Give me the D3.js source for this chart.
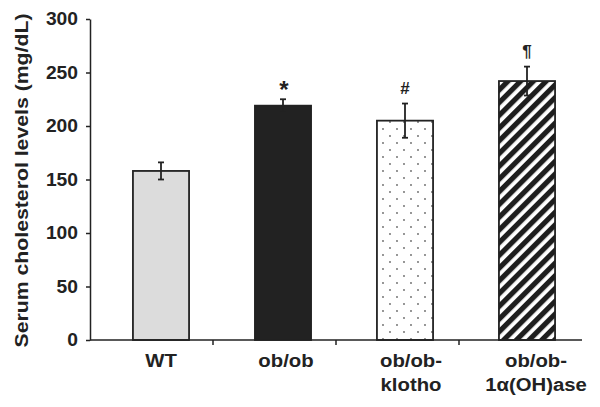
<!DOCTYPE html>
<html><head><meta charset="utf-8">
<script src="https://cdn.jsdelivr.net/npm/d3@7"></script>
<style>body{margin:0;background:#fff}svg{display:block}</style>
</head><body>
<script>
const categories = ["WT", "ob/ob", "ob/ob-klotho", "ob/ob-1α(OH)ase"];
const labelLines = [["WT"], ["ob/ob"], ["ob/ob-", "klotho"], ["ob/ob-", "1α(OH)ase"]];
const values = [158, 219, 205, 242];
const errors = [8, 6, 16, 13.5];
const marks = ["", "*", "#", "¶"];
const yTicks = [0, 50, 100, 150, 200, 250, 300];

const W = 600, H = 407;
const svg = d3.select("body").append("svg").attr("width", W).attr("height", H);
const font = "'Liberation Sans', Arial, sans-serif";
const ink = "#222";

const y = d3.scaleLinear().domain([0, 300]).range([340, 19]);
const x = d3.scaleBand().domain(categories).range([100, 588]).paddingInner(0.54).paddingOuter(0.27);
const xAxisScale = d3.scaleBand().domain(categories).range([90, 582]);
const xLabel = d3.scalePoint().domain(categories).range([161, 536]);

const defs = svg.append("defs");
const dots = defs.append("pattern").attr("id", "dots").attr("patternUnits", "userSpaceOnUse")
  .attr("width", 14).attr("height", 14).attr("x", 2).attr("y", 0);
dots.append("rect").attr("width", 14).attr("height", 14).attr("fill", "#fff");
dots.append("circle").attr("cx", 3).attr("cy", 3).attr("r", 0.9).attr("fill", "#666");
dots.append("circle").attr("cx", 10).attr("cy", 10).attr("r", 0.9).attr("fill", "#666");

const hatch = defs.append("pattern").attr("id", "hatch").attr("patternUnits", "userSpaceOnUse")
  .attr("width", 9).attr("height", 9).attr("patternTransform", "rotate(-45)");
hatch.append("rect").attr("width", 9).attr("height", 9).attr("fill", "#fff");
hatch.append("rect").attr("width", 9).attr("height", 5.2).attr("fill", "#1e1e1e");

const fills = ["#dcdcdc", "#222", "url(#dots)", "url(#hatch)"];

// bars
svg.append("g").selectAll("rect").data(categories).join("rect")
  .attr("x", d => x(d)).attr("width", x.bandwidth())
  .attr("y", (d, i) => y(values[i])).attr("height", (d, i) => y(0) - y(values[i]))
  .attr("fill", (d, i) => fills[i]).attr("stroke", ink).attr("stroke-width", 1.8);

// error bars + significance marks
const eb = svg.append("g").attr("stroke", ink).attr("stroke-width", 1.8);
const markOffset = [0, 1, 10, 10];
const markSize = [16, 24, 17, 17];
categories.forEach((c, i) => {
  const cx = x(c) + x.bandwidth() / 2;
  eb.append("line").attr("x1", cx).attr("x2", cx)
    .attr("y1", y(values[i] + errors[i])).attr("y2", y(values[i] - errors[i]));
  [values[i] + errors[i], values[i] - errors[i]].forEach(v => {
    eb.append("line").attr("x1", cx - 3).attr("x2", cx + 3).attr("y1", y(v)).attr("y2", y(v));
  });
  if (marks[i]) {
    svg.append("text").attr("x", cx + (i === 1 ? 1 : 0))
      .attr("y", y(values[i] + errors[i]) - markOffset[i])
      .attr("text-anchor", "middle").attr("font-family", font).attr("font-weight", "bold")
      .attr("font-size", markSize[i]).attr("fill", ink).text(marks[i]);
  }
});

// y axis
const yAxis = svg.append("g").attr("transform", "translate(90,0)")
  .call(d3.axisLeft(y).tickValues(yTicks).tickSize(4).tickPadding(6).tickSizeOuter(0));
yAxis.select(".domain").attr("stroke", ink).attr("stroke-width", 1.5);
yAxis.selectAll(".tick line").attr("stroke", ink).attr("stroke-width", 1.5);
yAxis.selectAll(".tick text").attr("font-family", font).attr("font-weight", "bold")
  .attr("font-size", 17.5).attr("fill", ink)
  .attr("x", 0).attr("transform", "translate(-12,0) scale(1.1,1)");

// x axis
const xAxis = svg.append("g").attr("transform", "translate(0,340)");
xAxis.append("line").attr("x1", 90).attr("x2", 582).attr("y1", 0).attr("y2", 0)
  .attr("stroke", ink).attr("stroke-width", 1.5);
xAxis.selectAll(".xt").data(categories.slice(1)).join("line")
  .attr("x1", d => xAxisScale(d)).attr("x2", d => xAxisScale(d))
  .attr("y1", 0).attr("y2", 5).attr("stroke", ink).attr("stroke-width", 1.5);

categories.forEach((c, i) => {
  const t = svg.append("text")
    .attr("transform", `translate(${xLabel(c)},367) scale(1.13,1)`)
    .attr("text-anchor", "middle")
    .attr("font-family", font).attr("font-weight", "bold").attr("font-size", 18).attr("fill", ink);
  labelLines[i].forEach((ln, j) => {
    t.append("tspan").attr("x", 0).attr("y", j * 24).text(ln);
  });
});

// y label
svg.append("text").attr("transform", "translate(28,180.5) rotate(-90)")
  .attr("text-anchor", "middle").attr("font-family", font).attr("font-weight", "bold")
  .attr("font-size", 18).attr("fill", ink)
  .attr("textLength", 334).attr("lengthAdjust", "spacingAndGlyphs")
  .text("Serum cholesterol levels (mg/dL)");
</script>
</body></html>
